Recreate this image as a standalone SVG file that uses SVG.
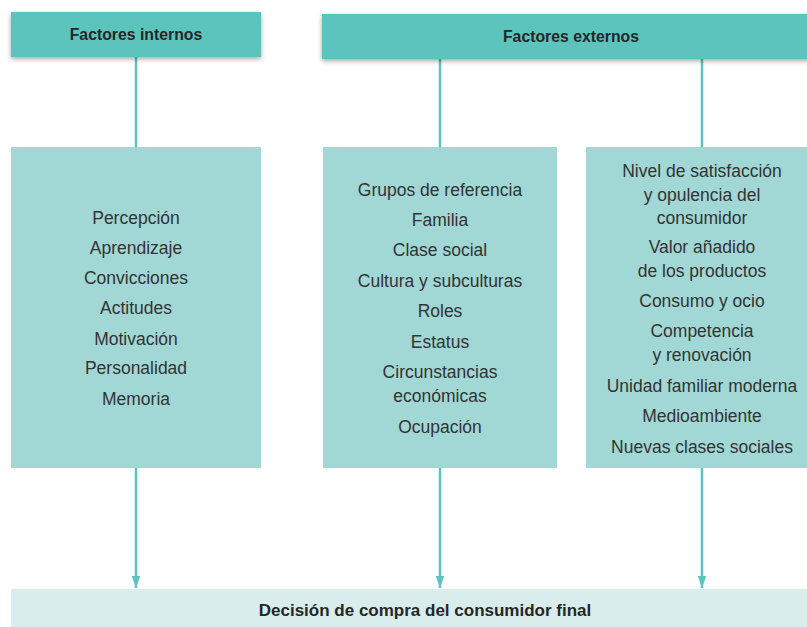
<svg xmlns="http://www.w3.org/2000/svg" width="807" height="627" viewBox="0 0 807 627">
<style>
.hdr{fill:#5bc4bd;filter:url(#sh)}
.box{fill:#a1d8d5}
.bar{fill:#d9eeec}
.ht{font-family:"Liberation Sans",Arial,sans-serif;font-weight:bold;font-size:15.8px;fill:#262626;text-anchor:middle}
.bt{font-family:"Liberation Sans",Arial,sans-serif;font-weight:bold;font-size:17px;fill:#262626;text-anchor:middle}
.t{font-family:"Liberation Sans",Arial,sans-serif;font-size:17.5px;fill:#333;text-anchor:middle}
.ln{stroke:#5bc4bd;stroke-width:2.5;fill:none}
</style>
<defs>
<filter id="sh" x="-10%" y="-30%" width="120%" height="170%">
<feDropShadow dx="0" dy="2" stdDeviation="2.5" flood-color="#000" flood-opacity="0.35"/>
</filter>
<marker id="ah" viewBox="0 0 10 10" refX="10" refY="5" markerWidth="4.8" markerHeight="3.4" preserveAspectRatio="none" orient="auto" markerUnits="strokeWidth">
<path d="M0,0 L10,5 L0,10 z" fill="#5bc4bd"/>
</marker>
</defs>
<rect width="807" height="627" fill="#fff"/>
<g id="connectors">
<line class="ln" x1="136" y1="56" x2="136" y2="147"/>
<line class="ln" x1="440" y1="58" x2="440" y2="147"/>
<line class="ln" x1="702" y1="58" x2="702" y2="147"/>
<line class="ln" x1="136" y1="468" x2="136" y2="588" marker-end="url(#ah)"/>
<line class="ln" x1="440" y1="468" x2="440" y2="588" marker-end="url(#ah)"/>
<line class="ln" x1="702" y1="468" x2="702" y2="588" marker-end="url(#ah)"/>
</g>
<g id="hdr-internos">
<rect class="hdr" x="11" y="12" width="250" height="45"/>
<text class="ht" x="136" y="40">Factores internos</text>
</g>
<g id="hdr-externos">
<rect class="hdr" x="322" y="14" width="490" height="45"/>
<text class="ht" x="571" y="42">Factores externos</text>
</g>
<g id="box-internos">
<rect class="box" x="11" y="147" width="250" height="321"/>
<text class="t" x="136" y="224">Percepción</text>
<text class="t" x="136" y="254">Aprendizaje</text>
<text class="t" x="136" y="284">Convicciones</text>
<text class="t" x="136" y="314">Actitudes</text>
<text class="t" x="136" y="345">Motivación</text>
<text class="t" x="136" y="374">Personalidad</text>
<text class="t" x="136" y="405">Memoria</text>
</g>
<g id="box-externos1">
<rect class="box" x="323" y="147" width="234" height="321"/>
<text class="t" x="440" y="196">Grupos de referencia</text>
<text class="t" x="440" y="226">Familia</text>
<text class="t" x="440" y="256">Clase social</text>
<text class="t" x="440" y="287">Cultura y subculturas</text>
<text class="t" x="440" y="317">Roles</text>
<text class="t" x="440" y="348">Estatus</text>
<text class="t" x="440" y="378">Circunstancias</text>
<text class="t" x="440" y="402">económicas</text>
<text class="t" x="440" y="433">Ocupación</text>
</g>
<g id="box-externos2">
<rect class="box" x="586" y="147" width="221" height="321"/>
<text class="t" x="702" y="177">Nivel de satisfacción</text>
<text class="t" x="702" y="201">y opulencia del</text>
<text class="t" x="702" y="224">consumidor</text>
<text class="t" x="702" y="253">Valor añadido</text>
<text class="t" x="702" y="277">de los productos</text>
<text class="t" x="702" y="307">Consumo y ocio</text>
<text class="t" x="702" y="337">Competencia</text>
<text class="t" x="702" y="361">y renovación</text>
<text class="t" x="702" y="392">Unidad familiar moderna</text>
<text class="t" x="702" y="422">Medioambiente</text>
<text class="t" x="702" y="453">Nuevas clases sociales</text>
</g>
<g id="decision">
<rect class="bar" x="11" y="589" width="796" height="38"/>
<text class="bt" x="425" y="616">Decisión de compra del consumidor final</text>
</g>
</svg>
